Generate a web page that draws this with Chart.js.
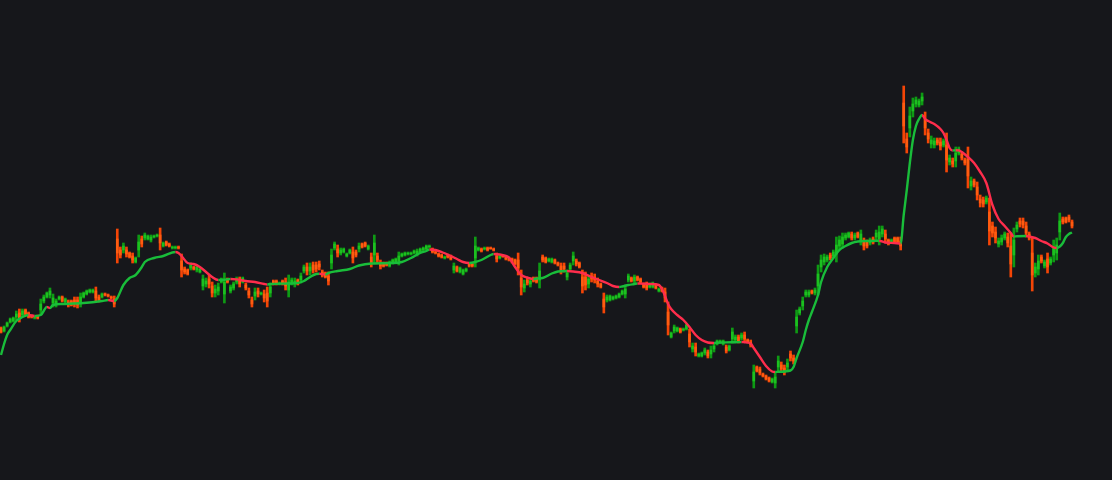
<!DOCTYPE html>
<html lang="en">
<head>
  <meta charset="UTF-8">
  <title>OHLC bars with moving average</title>
  <script src="https://cdn.jsdelivr.net/npm/chart.js@4.4.0/dist/chart.umd.min.js"></script>
  <style>
    html, body {
      margin: 0;
      padding: 0;
      background-color: #16171b;
      overflow: hidden;
    }
    #wrap {
      width: 1112px;
      height: 480px;
    }
  </style>
</head>
<body>
  <div id="wrap">
    <canvas id="chart" width="1112" height="480"></canvas>
  </div>

  <script>
    // candle data, one entry per bar (price units)
    const highs = [
      173,174,178,182,183,189,191,191,191,188, 185,184,185,201,205,208,212,206,201,204,
      204,202,200,200,203,203,207,208,210,211, 211,213,205,207,207,206,204,204,271,253,
      257,253,248,247,243,265,264,267,265,265, 265,266,272,258,259,257,254,254,254,246,
      233,231,237,234,235,232,225,222,225,218, 215,217,222,227,222,215,218,223,223,223,
      217,212,203,212,212,208,210,213,217,220, 220,218,220,222,225,222,222,221,227,235,
      237,237,238,238,239,230,228,228,251,258, 255,252,252,247,251,253,250,257,257,258,
      255,247,265,247,240,238,238,239,241,242, 248,247,248,248,248,250,251,252,253,255,
      255,252,249,247,246,244,246,245,237,234, 233,231,232,237,237,263,253,252,253,253,
      253,252,247,245,245,244,243,242,241,247, 230,220,222,222,223,223,237,245,243,242,
      242,241,238,237,237,230,237,248,241,238, 230,228,225,227,226,222,217,207,205,205,
      204,205,207,210,215,226,223,225,224,222, 217,218,217,218,216,212,213,212,198,168,
      175,173,172,172,176,171,157,157,147,148, 152,150,154,157,160,160,160,155,155,172,
      165,165,167,168,161,160,135,134,133,127, 125,123,122,128,144,138,135,141,149,145,
      190,193,203,210,210,210,212,235,245,246, 245,247,250,263,264,267,267,268,268,267,
      268,270,262,260,262,263,270,274,274,270, 261,261,263,263,263,414,367,393,402,403,
      401,407,388,371,364,362,362,362,361,367, 345,342,353,353,348,342,353,323,321,318,
      305,303,304,302,278,273,262,265,268,267, 267,272,278,282,282,278,268,263,237,245,
      245,240,247,243,260,262,287,283,283,285, 280
    ];
    const lows = [
      167,168,173,177,178,180,178,183,185,182, 182,181,181,185,197,202,202,193,193,200,
      198,197,193,194,193,192,193,202,205,207, 207,198,198,202,204,203,201,193,237,242,
      247,243,242,237,237,243,253,260,260,258, 262,263,250,253,254,253,251,251,251,223,
      226,225,230,230,228,227,210,213,212,203, 203,205,217,197,217,207,210,216,213,217,
      210,202,193,200,203,205,198,193,203,215, 215,215,215,210,203,215,213,215,217,227,
      225,225,227,228,230,223,222,215,231,250, 243,245,247,243,246,237,243,248,252,253,
      250,233,237,237,231,233,234,233,236,237, 235,243,244,245,245,246,244,247,249,250,
      252,247,246,243,242,241,242,240,227,228, 227,225,228,233,233,233,249,248,250,249,
      251,249,238,241,243,240,239,237,235,225, 205,208,215,213,218,217,212,238,237,238,
      237,236,234,226,228,220,229,235,234,232, 207,210,212,218,217,213,212,187,198,199,
      200,201,202,205,202,218,218,217,219,217, 212,210,212,212,211,208,208,198,165,162,
      167,168,167,169,170,153,148,144,143,143, 145,142,142,148,155,157,155,147,149,157,
      158,157,160,158,157,153,112,128,125,123, 120,118,117,112,128,128,125,129,139,136,
      167,185,190,203,203,206,205,205,228,235, 238,240,242,238,250,252,260,262,260,260,
      262,255,250,252,255,256,260,255,263,257, 255,257,257,257,250,357,347,363,383,393,
      393,395,365,357,352,352,355,350,353,328, 335,333,333,345,340,335,312,310,313,300,
      293,293,296,255,263,257,253,255,260,253, 223,233,268,273,272,263,260,209,223,225,
      237,232,227,235,238,240,260,276,277,278, 272
    ];
    const opens = [
      172,169,174,178,179,183,187,185,190,187, 184,182,184,190,199,203,205,197,195,201,
      203,198,198,199,200,200,197,203,206,208, 208,209,203,203,206,205,203,201,261,250,
      250,250,247,244,238,250,261,262,261,260, 263,264,265,254,258,256,252,252,253,239,
      231,230,232,233,230,228,214,216,221,214, 207,209,218,206,221,209,212,218,220,218,
      215,209,200,204,209,206,206,207,207,219, 219,216,219,218,210,217,216,220,220,229,
      233,229,235,235,236,228,227,224,237,252, 251,247,248,244,247,248,248,251,256,257,
      251,243,245,244,237,237,237,234,237,238, 239,244,245,246,246,247,246,248,250,251,
      253,251,248,246,245,242,245,244,230,233, 228,226,229,236,236,242,250,251,251,252,
      252,251,244,242,244,243,242,241,240,240, 222,212,220,216,222,222,220,243,242,239,
      238,240,237,234,234,223,231,239,239,237, 223,223,216,224,223,219,216,201,200,200,
      201,202,203,206,206,220,222,219,223,221, 216,216,213,213,215,209,212,208,188,163,
      169,169,171,170,171,166,151,153,144,144, 147,148,146,151,156,158,156,153,150,161,
      160,163,162,165,160,158,119,133,131,126, 124,122,118,117,133,135,132,133,146,142,
      174,187,194,205,205,209,207,214,233,238, 240,245,244,246,254,256,262,263,266,262,
      267,259,258,258,257,261,263,261,266,266, 260,258,262,262,259,397,361,372,389,396,
      395,399,381,367,356,355,360,358,355,355, 338,339,339,347,346,340,341,314,319,313,
      301,300,298,288,274,268,256,258,262,263, 254,245,271,279,279,274,266,247,227,231,
      243,234,241,237,245,247,268,281,282,283, 278
    ];
    const closes = [
      168,173,177,181,182,186,182,189,186,183, 183,183,182,196,203,207,209,202,199,203,
      199,201,195,195,196,195,203,207,209,210, 210,202,200,206,205,204,202,196,247,245,
      254,246,243,240,242,258,256,265,264,263, 264,265,257,257,255,254,253,253,252,230,
      228,226,235,231,233,231,221,219,216,207, 211,213,221,218,218,213,216,221,216,222,
      212,205,196,208,206,207,202,199,213,216, 216,217,216,214,218,220,219,216,224,233,
      229,233,230,231,233,225,223,219,245,256, 247,250,251,246,250,242,245,254,253,254,
      254,237,257,240,234,234,235,238,240,241, 244,246,247,247,247,249,249,251,252,254,
      254,248,247,244,243,243,243,241,234,229, 232,230,231,234,234,254,252,249,252,250,
      251,250,241,244,243,241,240,238,236,232, 213,216,217,219,219,218,229,240,238,241,
      241,237,235,229,231,227,235,244,236,233, 214,215,221,221,220,216,213,193,203,204,
      203,204,206,209,211,224,219,223,220,218, 213,212,216,217,212,211,209,202,175,167,
      173,172,168,171,175,158,154,148,146,147, 150,144,150,154,159,159,159,149,154,168,
      163,159,165,161,158,155,128,129,127,124, 121,119,121,123,139,131,128,137,142,139,
      183,191,199,208,208,207,210,226,240,243, 243,242,248,255,260,263,265,267,262,265,
      263,266,254,254,260,258,267,268,271,261, 256,260,258,258,254,374,353,384,396,400,
      399,403,372,361,360,359,357,354,359,340, 342,336,347,351,342,337,324,319,315,305,
      297,296,302,269,267,262,259,262,266,257, 236,260,275,276,275,267,262,225,233,239,
      239,238,233,241,253,255,279,278,278,280, 274
    ];

    // moving average, read at these bar indexes
    const maIndex = [
      0,1,2,3,5,7,9,11,13,15,16,17,20,27,33,35,37,38,40,42,44,46,47,50,53,57,58,59,61,63,
      65,67,69,71,73,75,77,80,83,86,87,88,94,97,99,101,103,104,106,107,110,114,117,121,128,
      131,134,137,139,140,142,144,147,149,151,153,155,157,160,161,163,165,166,168,170,172,
      174,175,177,180,182,185,187,190,193,195,198,200,202,203,205,207,208,209,212,215,216,
      217,218,219,221,223,225,227,229,231,233,234,237,240,242,243,245,246,248,250,252,253,
      254,258,259,260,262,263,264,265,267,268,270,272,274,276,278,280,283,287,289,292,294,
      295,296,297,298,299,300,301,302,303,305,307,308,309,310,311,312,313,314,316,318,320,
      322,324,326,328,330,331,332,335,336,338,340,342,344,345,346,347,348,349,350
    ];
    const maValue = [
      145,156,165,170,179,183,185,184,185,193,192,195,196,197,199,200,199,202,215,222,225,233,238,242,244,248,247,244,237,236,
      233,228,223,220,220.3,221,220.6,219,218,216,215.5,216,216.5,217,219,223,226,226.2,225.5,227,229,231,234.5,236.5,237,
      238,242,247,249,250.5,250,248,244,241,238,237,238,240,245,246,245.5,244,242.5,233,225,222.5,
      221,221.5,222,226.5,228.5,229,228.5,227,223,220.5,217,214,213,213.5,215,216,216.5,216.4,216,215,211,
      204,196,191,185,180,173,165,160,157.5,157,157.2,157.6,157.8,158,157.7,156.5,152,143,134,128.5,128,
      128.2,129.5,133,142,158,170,180,188,205,218,233,242,250,254,257,258.5,259,259.2,257.5,257,256.5,
      285,310,337,360,374,381,385,381,379,376,371,367,360,352,349.5,349.8,349.6,348,343,337,328,
      317,295,281,274,267,263.5,263.7,264,263.5,262,259,256.5,252.5,252,253.5,257,263,266,267.5
    ];

    const wickUp = '#0e9a14';
    const wickDown = '#f44506';
    const bodyUp = '#1cc020';
    const bodyDown = '#ff5c10';
    const lineUp = '#19bd3a';
    const lineDown = '#ff2d4c';

    const isUp = closes.map((c, i) => c >= opens[i]);

    const ctx = document.getElementById('chart').getContext('2d');
    const chart = new Chart(ctx, {
      type: 'bar',
      data: {
        datasets: [
          {
            type: 'line',
            label: 'MA',
            data: maIndex.map((x, k) => ({ x: x, y: maValue[k] })),
            borderColor: lineUp,
            borderWidth: 2.4,
            pointRadius: 0,
            cubicInterpolationMode: 'monotone',
            segment: {
              borderColor: c => c.p1.parsed.y >= c.p0.parsed.y ? lineUp : lineDown
            },
            order: 1
          },
          {
            label: 'body',
            data: opens.map((o, i) => ({ x: i, y: [o, closes[i]] })),
            backgroundColor: isUp.map(u => u ? bodyUp : bodyDown),
            barThickness: 2,
            grouped: false,
            borderWidth: 0,
            order: 2
          },
          {
            label: 'wick',
            data: highs.map((h, i) => ({ x: i, y: [lows[i], h] })),
            backgroundColor: isUp.map(u => u ? wickUp : wickDown),
            barThickness: 2,
            grouped: false,
            borderWidth: 0,
            order: 3
          }
        ]
      },
      options: {
        responsive: false,
        animation: false,
        events: [],
        layout: { padding: 0 },
        plugins: {
          legend: { display: false },
          tooltip: { enabled: false }
        },
        scales: {
          x: {
            type: 'linear',
            min: -0.33,
            max: 363.07,
            offset: false,
            display: false
          },
          y: {
            min: 20,
            max: 500,
            display: false
          }
        }
      }
    });
  </script>
</body>
</html>
